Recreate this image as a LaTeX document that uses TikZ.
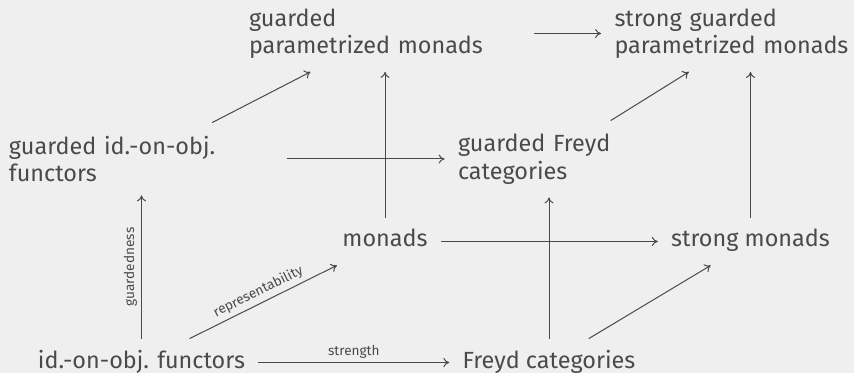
\documentclass[tikz,border=0pt]{standalone}
\usepackage{fontspec}
\setmainfont{Fira Sans}
\usetikzlibrary{arrows.meta}
\definecolor{bgc}{HTML}{EFEFEF}
\definecolor{fgc}{HTML}{4A4A4A}
\begin{document}
\begin{tikzpicture}[x=0.5pt,y=-0.5pt,
  every node/.style={text=fgc, inner sep=6.5pt, font=\fontsize{11.7}{13.75}\selectfont},
  one/.style={anchor=base, text height=8pt, text depth=2.5pt},
  two/.style={align=left},
  lab/.style={font=\fontsize{6.8}{8}\selectfont, inner sep=2pt},
  arr/.style={draw=fgc, line width=0.5pt, -{To[length=3pt,width=4.5pt]}}]
\fill[bgc] (0,0) rectangle (854,373);
\useasboundingbox (0,0) rectangle (854,373);
\node[two, text width=136pt] (gpm) at (385,33.5) {guarded\\parametrized monads};
\node[two, text width=136pt] (sgpm) at (750.5,33.5) {strong guarded\\parametrized monads};
\node[two, text width=132.5pt] (gif) at (141.5,159) {guarded id.-on-obj.\\functors};
\node[two, text width=91pt] (gF) at (549,159) {guarded Freyd\\categories};
\node[one] (mon) at (385,247) {monads};
\node[one] (smon) at (750.5,247) {strong monads};
\node[one] (ioof) at (141.5,368) {id.-on-obj. functors};
\node[one] (fc) at (549,368) {Freyd categories};
\draw[arr] (gpm) -- (sgpm);
\draw[arr] (gif) -- (gpm);
\draw[arr] (gF) -- (sgpm);
\draw[arr] (mon) -- (mon |- gpm.south);
\draw[arr] (smon) -- (smon |- sgpm.south);
\draw[arr] (gif) -- (gF);
\draw[arr] (mon) -- (smon);
\draw[arr] (fc) -- (fc |- gF.south);
\draw[arr] (fc) -- (smon);
\draw[arr] (ioof) -- node[lab, midway, above, sloped] {guardedness} (ioof |- gif.south);
\draw[arr] (ioof) -- node[lab, midway, above, sloped] {representability} (mon);
\draw[arr] (ioof) -- node[lab, midway, above] {strength} (fc);
\end{tikzpicture}
\end{document}
